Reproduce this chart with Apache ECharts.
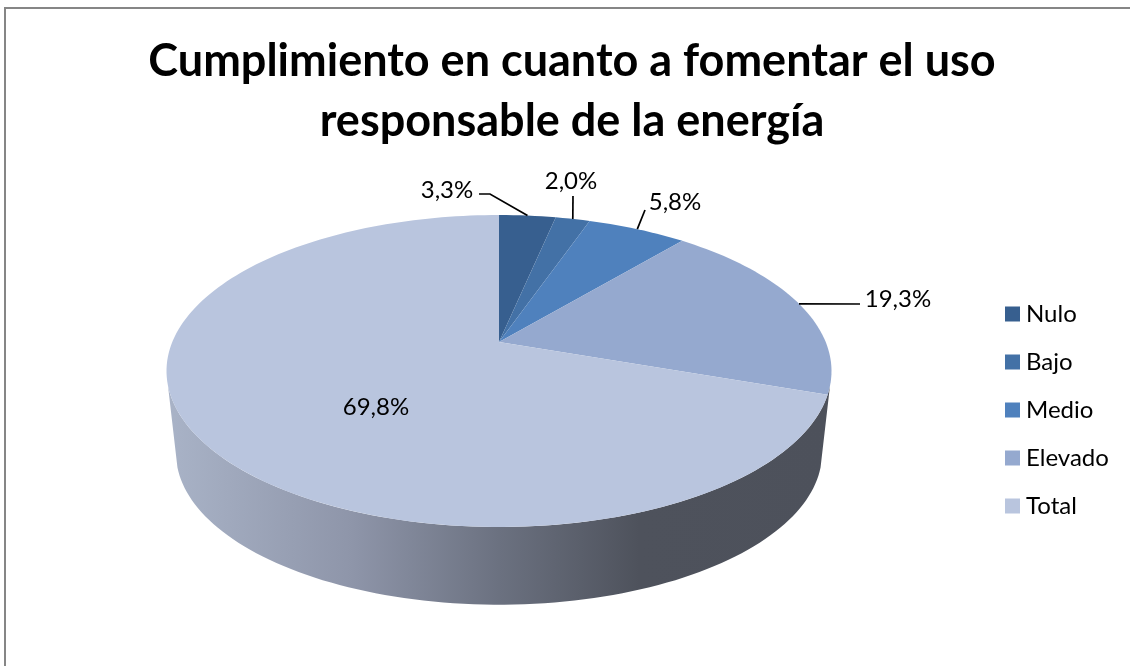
<!DOCTYPE html>
<html>
<head>
<meta charset="utf-8">
<style>
  html, body { margin: 0; padding: 0; background: #fff; }
  #main { width: 1130px; height: 666px; }
</style>
<script src="https://cdn.jsdelivr.net/npm/echarts@6/dist/echarts.min.js"></script>
</head>
<body>
<div id="main"></div>
<script>
// datos del grafico
const categories = ['Nulo', 'Bajo', 'Medio', 'Elevado', 'Total'];
const values = [3.3, 2.0, 5.8, 19.3, 69.8];
const labels = ['3,3%', '2,0%', '5,8%', '19,3%', '69,8%'];
const colors = ['#375f8f', '#4371a6', '#4f81bd', '#95a9cf', '#b9c5de'];

const chartTitle = 'Cumplimiento en cuanto a fomentar el uso\nresponsable de la energía';
const textFont = 'Lato, "Noto Sans", sans-serif';

// geometria del disco en perspectiva (Excel 3D)
const cx = 499, topY = 342, bottomY = 425;
const sideScale = 0.9714;
const persp = 0.186, ax = 326.7, ay = 150.6;
const wallFrom = 106, wallTo = 254;

// donde va cada etiqueta respecto al borde de su sector: codo de la guia y texto
const labelLayout = [
  { bend: [[490, 194], [479, 194]], text: [447, 190] },
  { bend: [[573, 196]], text: [571, 181] },
  { bend: [[645, 210]], text: [675, 202] },
  { bend: [[860, 304]], text: [898, 299] },
  { bend: [], text: [376, 407], inside: true }
];

const total = values.reduce((a, b) => a + b, 0);

function project(deg, scale, baseY) {
  const t = deg * Math.PI / 180;
  const x = Math.sin(t), y = Math.cos(t);
  const w = 1 + persp * y;
  return [cx + scale * ax * x / w, baseY - scale * ay * y / w];
}

function rim(from, to, scale, baseY) {
  const pts = [];
  const steps = Math.max(2, Math.ceil(Math.abs(to - from) / 1.5));
  for (let i = 0; i <= steps; i++) {
    pts.push(project(from + (to - from) * i / steps, scale, baseY));
  }
  return pts;
}

function wallItem() {
  const points = rim(wallFrom, wallTo, 1, topY).concat(rim(wallTo, wallFrom, sideScale, bottomY));
  return {
    type: 'polygon',
    shape: { points: points },
    style: {
      fill: new echarts.graphic.LinearGradient(167, 0, 832, 0, [
        { offset: 0, color: '#a9b3c7' },
        { offset: 0.28, color: '#8e95a9' },
        { offset: 0.5, color: '#6b7180' },
        { offset: 0.71, color: '#4e525c' },
        { offset: 1, color: '#4d515b' }
      ], true)
    }
  };
}

function sliceItem(index) {
  return function (params, api) {
    let start = 0;
    for (let i = 0; i < index; i++) start += values[i];
    const v = api.value(0);
    const a0 = start / total * 360;
    const a1 = (start + v) / total * 360;
    const mid = project((a0 + a1) / 2, 1, topY);
    const layout = labelLayout[index];
    const children = [{
      type: 'polygon',
      shape: { points: [[cx, topY]].concat(rim(a0, a1, 1, topY)) },
      style: { fill: colors[index] }
    }];
    if (!layout.inside) {
      children.push({
        type: 'polyline',
        shape: { points: [mid].concat(layout.bend) },
        style: { fill: null, stroke: '#000', lineWidth: 1.7 }
      });
    }
    children.push({
      type: 'text',
      style: {
        x: layout.text[0], y: layout.text[1], text: labels[index],
        font: '24px ' + textFont, fill: '#000', align: 'center', verticalAlign: 'middle'
      }
    });
    return { type: 'group', children: children };
  };
}

const sliceSeries = categories.map((name, i) => ({
  name: name,
  type: 'custom',
  coordinateSystem: 'none',
  silent: true,
  z: 3,
  itemStyle: { color: colors[i] },
  renderItem: sliceItem(i),
  data: [[values[i]]]
}));

let chart = echarts.init(document.getElementById('main'));
chart.setOption({
  animation: false,
  backgroundColor: '#fff',
  title: {
    text: chartTitle,
    left: 567,
    top: 26,
    textAlign: 'center',
    textStyle: { fontFamily: textFont, fontSize: 45, fontWeight: 'bold', color: '#000', lineHeight: 60 }
  },
  legend: {
    orient: 'vertical',
    left: 1000,
    top: 293,
    itemWidth: 15,
    itemHeight: 15,
    itemGap: 16,
    icon: 'rect',
    selectedMode: false,
    data: categories,
    textStyle: { fontFamily: textFont, fontSize: 24, color: '#000', lineHeight: 32, padding: [0, 0, 0, 1] }
  },
  graphic: [{
    type: 'rect',
    silent: true,
    shape: { x: 5, y: 8, width: 1200, height: 800 },
    style: { fill: null, stroke: '#868686', lineWidth: 2 }
  }],
  series: [{
    name: 'pared',
    type: 'custom',
    coordinateSystem: 'none',
    silent: true,
    z: 2,
    renderItem: wallItem,
    data: [[1]]
  }].concat(sliceSeries)
});
</script>
</body>
</html>
